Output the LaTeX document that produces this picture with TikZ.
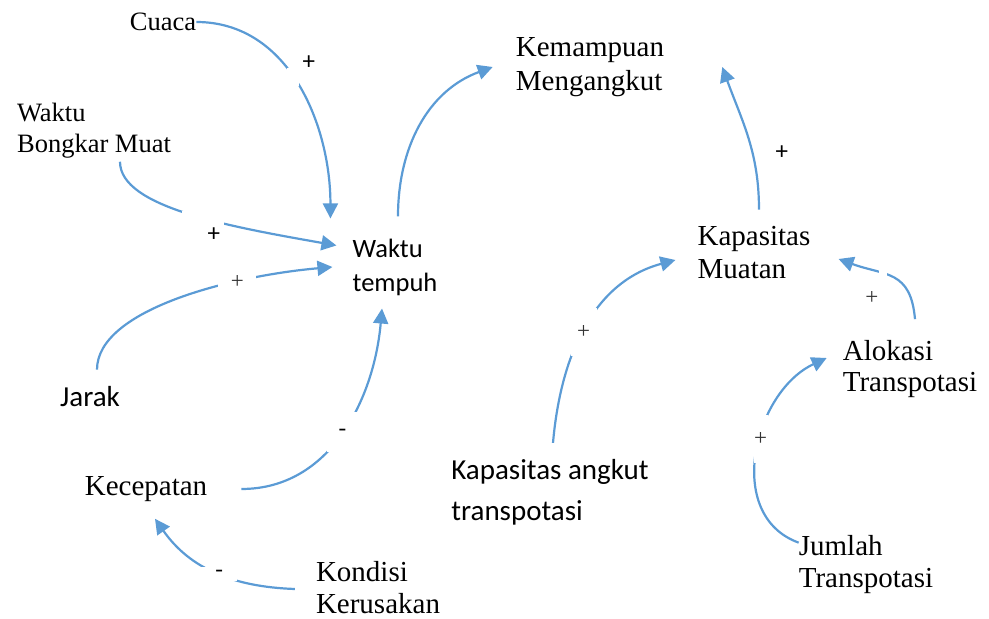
\documentclass[tikz,border=0pt]{standalone}
\usepackage{fontspec}
\setmainfont{Liberation Serif}
\setsansfont{Carlito}
\usetikzlibrary{arrows.meta}
\definecolor{cLink}{RGB}{91,155,213}

\begin{document}
\begin{tikzpicture}[
  x=1pt, y=1pt,
  var/.style 2 args={inner sep=0pt, align=left, font=\fontsize{#1}{#2}\selectfont},
  svar/.style 2 args={inner sep=0pt, align=left, font=\sffamily\fontsize{#1}{#2}\selectfont},
  arr/.style={-{Triangle[length=15pt,width=15pt]}, line width=2.2pt, cLink},
  gap/.style 2 args={fill=white, minimum width=#1pt, minimum height=#2pt, inner sep=0pt},
  sgn/.style={font=\fontsize{23}{23}\selectfont, text=black!80, inner sep=0pt},
  sgnb/.style={font=\sffamily\fontsize{25}{25}\selectfont, text=black, inner sep=0pt},
]
\useasboundingbox (0,0) rectangle (989,619);

% Travel-time side.
\node[var={26.5}{31}] (cuaca) at (163,597) {Cuaca};
\node[var={26.5}{31}] (bongkar) at (94,488) {Waktu\\Bongkar Muat};
\node[svar={26.5}{34}] (tempuh) at (395,352) {Waktu\\tempuh};
\node[svar={29}{35}] (jarak) at (90,222) {Jarak};
\node[var={29}{33}] (kecepatan) at (146,130) {Kecepatan};
\node[var={29}{32}] (kondisi) at (378,31) {Kondisi\\Kerusakan};

% Capacity side.
\node[var={29}{34}] (kemampuan) at (590,552) {Kemampuan\\Mengangkut};
\node[var={29}{33}] (muatan) at (754,366) {Kapasitas\\Muatan};
\node[svar={29}{41}] (angkut) at (550,127) {Kapasitas angkut\\transpotasi};
\node[var={29}{31}] (alokasi) at (910,250) {Alokasi\\Transpotasi};
\node[var={29}{32}] (jumlah) at (866,54) {Jumlah\\Transpotasi};

% Links into travel time.
\draw[arr] (cuaca.east) to[out=0,in=90]
  node[gap={12}{18}, pos=.46, label={[sgnb, label distance=2pt]35:+}] {}
  ([shift={(-22,20)}]tempuh.north west);
\draw[arr] ([shift={(26,-3)}]bongkar.south)
  to[out=-90,in=170,out looseness=.5,in looseness=1.2]
  node[gap={42}{14}, pos=.56, label={[sgnb, label distance=1pt]-70:+}] {}
  ([shift={(-16,-7)}]tempuh.north west);
\draw[arr] ([shift={(7,17)}]jarak.north) to[out=90,in=185,out looseness=.6]
  node[gap={38}{14}, pos=.7, sgn] {+} ([xshift=-20]tempuh.west);
\draw[arr] ([xshift=34]kecepatan.east) to[out=0,in=-95]
  node[gap={30}{40}, pos=.5, sgn, text=black] {-} ([shift={(-13,-13)}]tempuh.south);
\draw[arr] ([shift={(-21,-1)}]kondisi.west) to[out=178,in=-55]
  node[gap={36}{14}, pos=.47, sgn, text=black] {-} ([shift={(9,-17)}]kecepatan.south);

% Links into carrying capacity.
\draw[arr] ([shift={(3,22)}]tempuh.north) to[out=90,in=200] ([xshift=-23]kemampuan.west);
\draw[arr] ([shift={(5,17)}]muatan.north) to[out=90,in=-70]
  node[sgnb, pos=.38, right=22pt] {+} ([xshift=58]kemampuan.east);
\draw[arr] ([shift={(3,16)}]angkut.north) to[out=85,in=195]
  node[gap={26}{48}, pos=.48, sgn] {+} ([shift={(-22,-7)}]muatan.west);
\draw[arr] ([shift={(5,21)}]alokasi.north) to[out=95,in=-20,looseness=1.3]
  node[gap={8}{8}, pos=.62, label={[sgn, label distance=13pt]-100:+}] {}
  ([shift={(28,-6)}]muatan.east);
\draw[arr] ([yshift=-7]jumlah.north west) to[out=160,in=205,looseness=1.1]
  node[gap={14}{48}, pos=.56, sgn] {+} ([shift={(-16,11)}]alokasi.west);

\end{tikzpicture}
\end{document}
